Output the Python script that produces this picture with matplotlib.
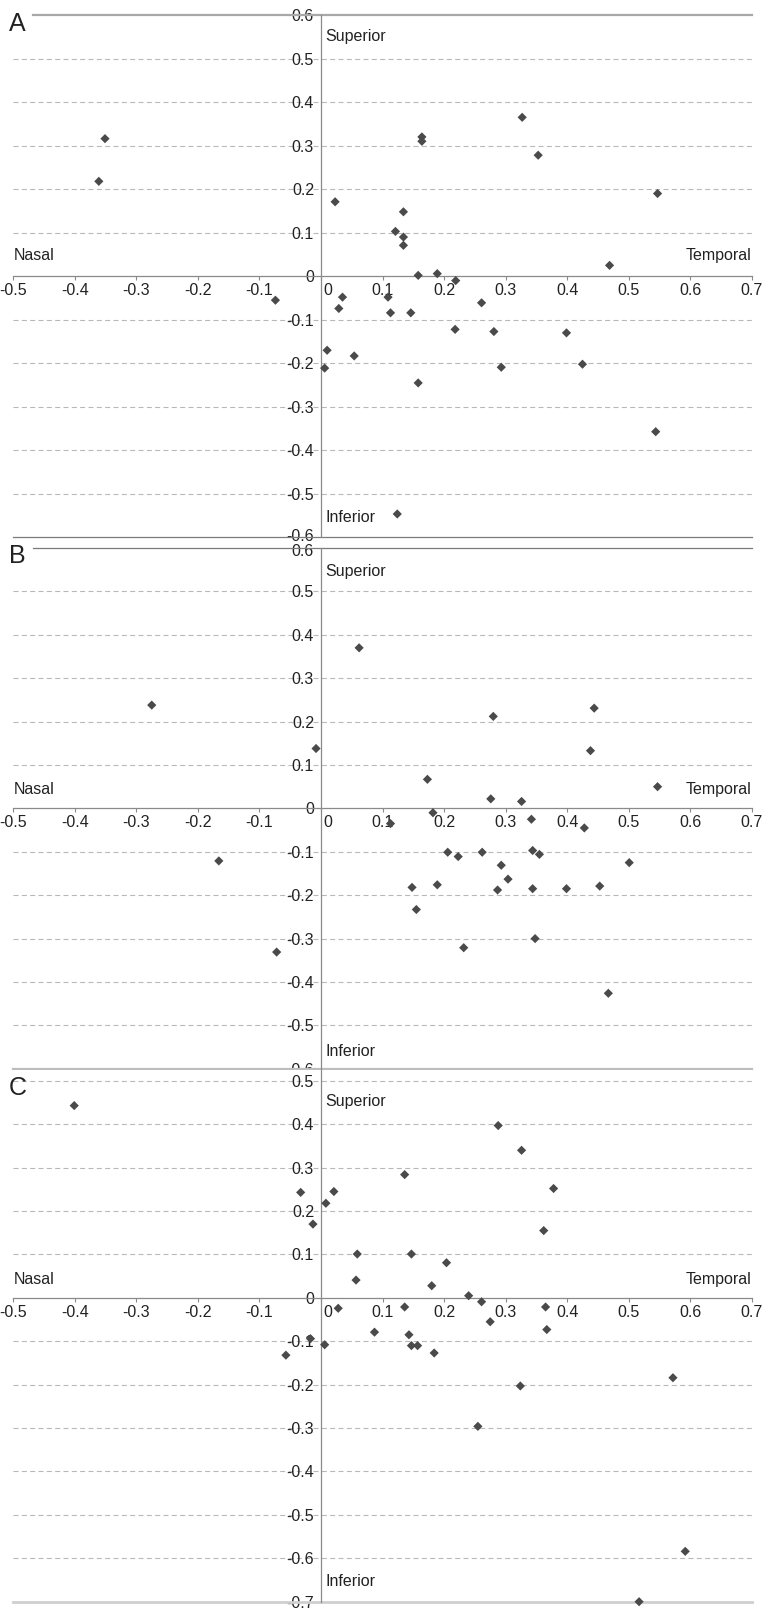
import numpy as np
import matplotlib
matplotlib.use('Agg')
import matplotlib.pyplot as plt
from matplotlib.transforms import ScaledTranslation

plt.rcParams['font.family'] = ['Liberation Sans', 'DejaVu Sans']

# panel A
a_x = [-0.351, -0.361, 0.023, 0.134, 0.121, 0.134, 0.134, 0.164, 0.164, 0.327, 0.353, 0.547,
       0.469, 0.158, 0.189, 0.219, -0.074, 0.029, 0.035, 0.109, 0.113, 0.146, 0.261, 0.218,
       0.281, 0.399, 0.010, 0.054, 0.006, 0.293, 0.425, 0.158, 0.544, 0.124]
a_y = [0.316, 0.218, 0.171, 0.148, 0.103, 0.090, 0.071, 0.320, 0.310, 0.365, 0.278, 0.190,
       0.025, 0.002, 0.006, -0.010, -0.055, -0.074, -0.048, -0.048, -0.084, -0.084, -0.061, -0.122,
       -0.127, -0.130, -0.170, -0.183, -0.211, -0.209, -0.202, -0.245, -0.357, -0.546]

# panel B
b_x = [-0.275, -0.008, 0.062, 0.173, 0.280, 0.276, 0.326, 0.444, 0.438, 0.547, 0.182, 0.113,
       0.342, 0.428, -0.166, -0.072, 0.206, 0.223, 0.262, 0.344, 0.355, 0.293, 0.501, 0.304,
       0.148, 0.189, 0.287, 0.344, 0.399, 0.453, 0.155, 0.232, 0.348, 0.467]
b_y = [0.238, 0.138, 0.370, 0.067, 0.212, 0.022, 0.016, 0.231, 0.133, 0.050, -0.010, -0.035,
       -0.025, -0.045, -0.121, -0.331, -0.101, -0.111, -0.101, -0.097, -0.106, -0.131, -0.125, -0.163,
       -0.182, -0.176, -0.188, -0.185, -0.185, -0.179, -0.233, -0.321, -0.300, -0.426]

# panel C
c_x = [-0.401, -0.033, -0.013, 0.008, 0.021, 0.059, 0.057, 0.028, 0.087, -0.017, 0.006, -0.057,
       0.136, 0.147, 0.204, 0.180, 0.240, 0.261, 0.275, 0.288, 0.326, 0.378, 0.362, 0.365,
       0.367, 0.136, 0.143, 0.147, 0.157, 0.184, 0.324, 0.572, 0.255, 0.592, 0.517]
c_y = [0.443, 0.243, 0.170, 0.218, 0.245, 0.101, 0.041, -0.024, -0.079, -0.094, -0.108, -0.132,
       0.284, 0.101, 0.081, 0.028, 0.005, -0.009, -0.055, 0.397, 0.340, 0.252, 0.155, -0.021,
       -0.073, -0.021, -0.085, -0.110, -0.110, -0.127, -0.203, -0.184, -0.296, -0.584, -0.700]

x_ticks = [-0.5, -0.4, -0.3, -0.2, -0.1, 0, 0.1, 0.2, 0.3, 0.4, 0.5, 0.6, 0.7]
x_labels = ['-0.5', '-0.4', '-0.3', '-0.2', '-0.1', '0', '0.1', '0.2', '0.3', '0.4', '0.5', '0.6', '0.7']
y_ticks_ab = [0.6, 0.5, 0.4, 0.3, 0.2, 0.1, 0, -0.1, -0.2, -0.3, -0.4, -0.5, -0.6]
y_labels_ab = ['0.6', '0.5', '0.4', '0.3', '0.2', '0.1', '0', '-0.1', '-0.2', '-0.3', '-0.4', '-0.5', '-0.6']
y_ticks_c = [0.5, 0.4, 0.3, 0.2, 0.1, 0, -0.1, -0.2, -0.3, -0.4, -0.5, -0.6, -0.7]
y_labels_c = ['0.5', '0.4', '0.3', '0.2', '0.1', '0', '-0.1', '-0.2', '-0.3', '-0.4', '-0.5', '-0.6', '-0.7']

W, H = 775, 1619
fig = plt.figure(figsize=(W / 100, H / 100), dpi=100)

TXT = '#222222'
AXC = '#8a8a8a'
FS = 11.5


def shift(label, dx_px, dy_px):
    label.set_transform(label.get_transform() +
                        ScaledTranslation(dx_px / 100, dy_px / 100, fig.dpi_scale_trans))


def panel(top_px, bot_px, ylim, xs, ys, yt, yl, grid_vals, sup_y, nas_y, inf_y):
    ax = fig.add_axes([13.3 / W, 1 - bot_px / H, 738.4 / W, (bot_px - top_px) / H])
    ax.set_xlim(-0.5, 0.7)
    ax.set_ylim(*ylim)
    for s in ['top', 'right']:
        ax.spines[s].set_visible(False)
    ax.spines['left'].set_position(('data', 0))
    ax.spines['bottom'].set_position(('data', 0))
    ax.spines['left'].set_color(AXC)
    ax.spines['bottom'].set_color(AXC)
    ax.spines['left'].set_linewidth(0.9)
    ax.spines['bottom'].set_linewidth(0.9)
    ax.set_xticks(x_ticks)
    ax.set_xticklabels(x_labels)
    ax.set_yticks(yt)
    ax.set_yticklabels(yl)
    ax.tick_params(axis='x', direction='out', length=3, width=0.8, color=AXC, pad=2,
                   labelsize=FS, labelcolor=TXT)
    ax.tick_params(axis='y', length=0, pad=5, labelsize=FS, labelcolor=TXT)
    # shift the "0" x label off the y axis
    shift(ax.get_xticklabels()[5], 7, 0)
    for g in grid_vals:
        ax.axhline(g, color='#b8b8b8', lw=0.8, ls=(0, (4.5, 3)), zorder=0)
    ax.scatter(xs, ys, marker='D', s=22, color='#4a4a4a', edgecolors='none', zorder=3, clip_on=False)
    ax.text(0.007, sup_y, 'Superior', fontsize=FS, color=TXT, va='center', ha='left')
    ax.text(0.007, inf_y, 'Inferior', fontsize=FS, color=TXT, va='center', ha='left')
    ax.text(-0.5, nas_y, 'Nasal', fontsize=FS, color=TXT, va='center', ha='left')
    ax.text(0.7, nas_y, 'Temporal', fontsize=FS, color=TXT, va='center', ha='right')
    return ax


grid_ab = [0.5, 0.4, 0.3, 0.2, 0.1, -0.1, -0.2, -0.3, -0.4, -0.5]
grid_c = [0.5, 0.4, 0.3, 0.2, 0.1, -0.1, -0.2, -0.3, -0.4, -0.5, -0.6]

ax_a = panel(15, 537.5, (-0.6, 0.6), a_x, a_y, y_ticks_ab, y_labels_ab, grid_ab, 0.55, 0.047, -0.553)
ax_a.axhline(0.6, xmin=0.027, xmax=1, color='#a8a8a8', lw=1.6, clip_on=False)
ax_a.axhline(-0.6, color='#7a7a7a', lw=0.9, clip_on=False)

ax_b = panel(548, 1068.8, (-0.6, 0.6), b_x, b_y, y_ticks_ab, y_labels_ab, grid_ab, 0.547, 0.044, -0.561)
ax_b.axhline(0.6, xmin=0.027, xmax=1, color='#7a7a7a', lw=0.9, clip_on=False)
ax_b.axhline(-0.6, color='#bdbdbd', lw=1.6, clip_on=False)

# keep the touching "-0.6" / "0.6" labels of A and B apart
shift(ax_a.get_yticklabels()[-1], 0, 2)
shift(ax_b.get_yticklabels()[0], 0, -2)

ax_c = panel(1070, 1601.7, (-0.7, 0.525), c_x, c_y, y_ticks_c, y_labels_c, grid_c, 0.453, 0.043, -0.653)
ax_c.axhline(-0.7, color='#cfcfcf', lw=2.0, clip_on=False)

for letter, yc in [('A', 24), ('B', 556), ('C', 1088)]:
    fig.text(9 / W, 1 - yc / H, letter, fontsize=18, color=TXT, ha='left', va='center')

fig.savefig('out.png', dpi=100)
